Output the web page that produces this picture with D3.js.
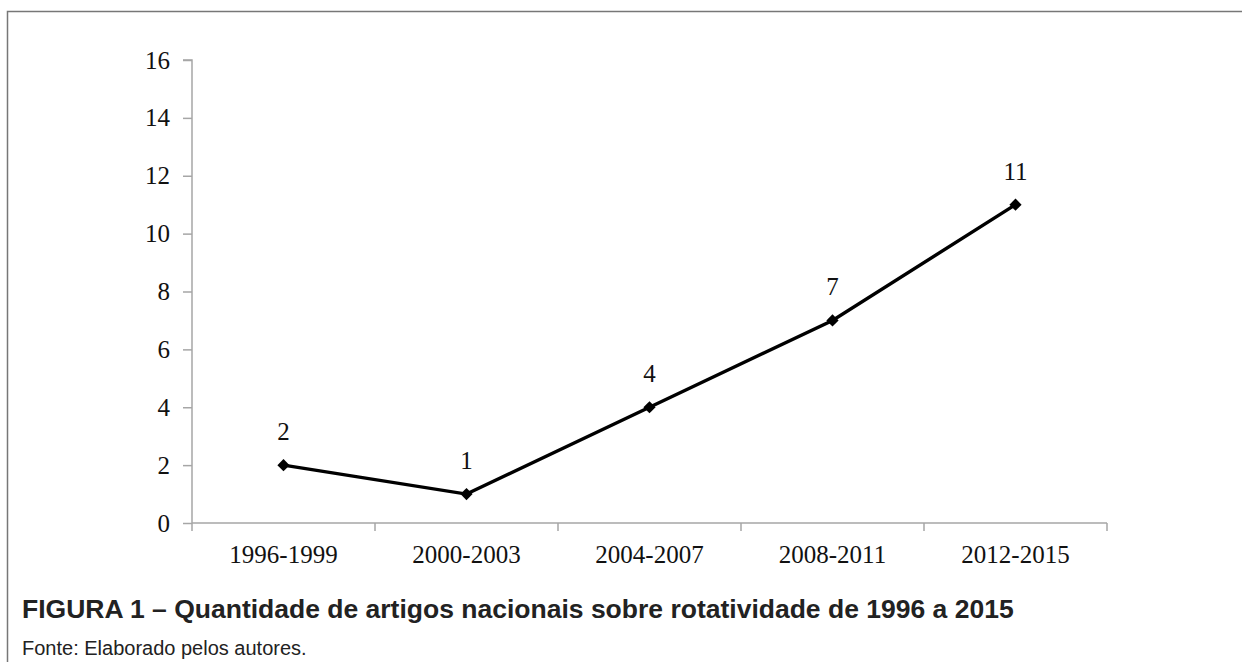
<!DOCTYPE html>
<html>
<head>
<meta charset="utf-8">
<script src="https://cdn.jsdelivr.net/npm/d3@7"></script>
<style>
  body { margin: 0; background: #fff; }
</style>
</head>
<body>
<div id="chart"></div>
<script>
// data
var periods = ["1996-1999", "2000-2003", "2004-2007", "2008-2011", "2012-2015"];
var counts = [2, 1, 4, 7, 11];
var yTicks = [0, 2, 4, 6, 8, 10, 12, 14, 16];
var captionTitle = "FIGURA 1 \u2013 Quantidade de artigos nacionais sobre rotatividade de 1996 a 2015";
var captionSource = "Fonte: Elaborado pelos autores.";

var W = 1242, H = 662;
var plot = {left: 192, right: 1107, top: 60, bottom: 523};

var svg = d3.select("#chart")
  .append("svg")
    .attr("width", W)
    .attr("height", H);

// frame round the figure (runs off the right and bottom)
svg.append("path")
  .attr("d", "M7.5," + H + " V11.5 H" + W)
  .attr("fill", "none")
  .attr("stroke", "#777")
  .attr("stroke-width", 1.5);

var x = d3.scaleBand()
  .domain(periods)
  .range([plot.left, plot.right]);

var y = d3.scaleLinear()
  .domain([0, 16])
  .range([plot.bottom, plot.top]);

var axisColor = "#a6a6a6";
var serif = "'Liberation Serif', 'Times New Roman', serif";

// y axis
var gy = svg.append("g")
  .attr("transform", "translate(" + plot.left + ",0)")
  .call(d3.axisLeft(y).tickValues(yTicks).tickSize(9).tickPadding(13).tickFormat(d3.format("d")));
gy.select(".domain").attr("stroke", axisColor).attr("stroke-width", 1.5)
  .attr("d", "M-9," + plot.top + "H0V" + plot.bottom);
gy.selectAll(".tick line").attr("stroke", axisColor).attr("stroke-width", 1.5);
gy.selectAll("text")
  .style("font-family", serif)
  .style("font-size", "25px")
  .attr("fill", "#111");

// x axis: ticks sit on the category boundaries
var gx = svg.append("g")
  .attr("transform", "translate(0," + plot.bottom + ")");
gx.append("line")
  .attr("x1", plot.left).attr("x2", plot.right)
  .attr("stroke", axisColor).attr("stroke-width", 1.5);
var bounds = periods.map(function(p) { return x(p); }).concat([plot.right]);
gx.selectAll(".bt")
  .data(bounds)
  .enter().append("line")
    .attr("x1", function(d) { return d; })
    .attr("x2", function(d) { return d; })
    .attr("y1", 0).attr("y2", 8)
    .attr("stroke", axisColor).attr("stroke-width", 1.5);
gx.selectAll(".lbl")
  .data(periods)
  .enter().append("text")
    .attr("x", function(d) { return x(d) + x.bandwidth() / 2; })
    .attr("y", 40)
    .attr("text-anchor", "middle")
    .style("font-family", serif)
    .style("font-size", "25px")
    .attr("fill", "#111")
    .text(function(d) { return d; });

var pts = periods.map(function(p, i) { return {p: p, v: counts[i]}; });
var cx = function(d) { return x(d.p) + x.bandwidth() / 2; };

// the line
svg.append("path")
  .datum(pts)
  .attr("fill", "none")
  .attr("stroke", "#000")
  .attr("stroke-width", 3.4)
  .attr("d", d3.line().x(cx).y(function(d) { return y(d.v); }));

// diamond markers
svg.selectAll(".mk")
  .data(pts)
  .enter().append("path")
    .attr("transform", function(d) { return "translate(" + cx(d) + "," + y(d.v) + ")"; })
    .attr("d", d3.symbol().type(d3.symbolDiamond2).size(95))
    .attr("fill", "#000");

// value labels
svg.selectAll(".vl")
  .data(pts)
  .enter().append("text")
    .attr("x", cx)
    .attr("y", function(d) { return y(d.v) - 25; })
    .attr("text-anchor", "middle")
    .style("font-family", serif)
    .style("font-size", "25px")
    .attr("fill", "#111")
    .text(function(d) { return d.v; });

// caption
svg.append("text")
  .attr("x", 22).attr("y", 618)
  .style("font-family", "'Liberation Sans', Arial, sans-serif")
  .style("font-size", "26.5px")
  .style("font-weight", "bold")
  .attr("fill", "#222")
  .text(captionTitle);

svg.append("text")
  .attr("x", 22).attr("y", 655)
  .style("font-family", "'Liberation Sans', Arial, sans-serif")
  .style("font-size", "20px")
  .attr("fill", "#222")
  .text(captionSource);
</script>
</body>
</html>
